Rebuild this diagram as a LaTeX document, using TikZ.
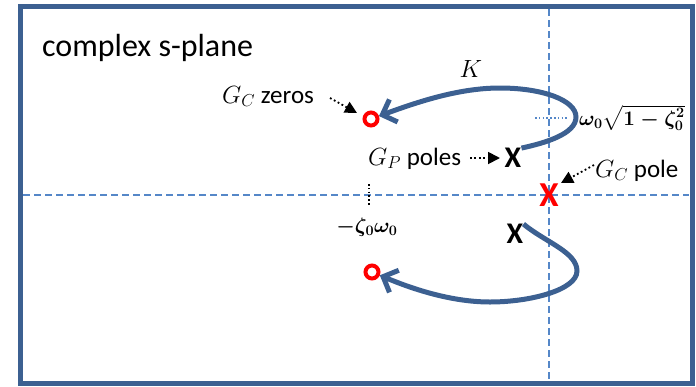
\documentclass[tikz,border=0pt]{standalone}
\usepackage{amsmath}
\usepackage[no-math]{fontspec}
\setmainfont{Carlito}
\usetikzlibrary{arrows.meta}
\definecolor{frameblue}{RGB}{60,96,145}
\definecolor{axisblue}{RGB}{85,135,200}
\newcommand{\wdlabel}{{\boldmath\(\omega_0\sqrt{1-\zeta_0^2}\)}}
\newcommand{\zwlabel}{{\boldmath\(-\zeta_0\omega_0\)}}
\begin{document}
\begin{tikzpicture}[x=1pt,y=-1pt,
  lbl/.style={font=\fontsize{25}{30}\selectfont, inner sep=0pt},
  pointer/.style={line width=1.8pt, dash pattern=on 1.8pt off 2.6pt,
                  -{Triangle[length=12pt,width=12pt]}},
  locus/.style={frameblue, line width=5pt,
                -{Straight Barb[length=12pt,width=24pt]}},
  axisline/.style={axisblue, line width=1.5pt, dash pattern=on 7pt off 4pt},
  zero/.style={circle, draw=red, line width=4pt, minimum size=13pt, inner sep=0pt},
  polex/.style={inner sep=0pt, font=\fontsize{30}{30}\selectfont\bfseries},
]
\useasboundingbox (0,0) rectangle (696,386);
% frame
\draw[frameblue, line width=5pt] (20,6) rectangle (692,383);
% axes
\coordinate (hl) at (23,195);
\coordinate (hr) at (689,195);
\coordinate (vt) at (549,9);
\coordinate (vb) at (549,380);
\draw[axisline] (hl) -- (hr);
\draw[axisline] (vt) -- (vb);
% ticks
\coordinate (t1a) at (369,184);
\coordinate (t1b) at (369,205);
\draw[black, line width=1.6pt, dash pattern=on 1.6pt off 2.2pt] (t1a) -- (t1b);
\coordinate (t2a) at (535,118);
\coordinate (t2b) at (567,118);
\draw[axisblue, line width=1.6pt, dash pattern=on 1.6pt off 2.2pt] (t2a) -- (t2b);
% poles and zeros
\node[zero] (zu) at (371,119) {};
\node[zero] (zl) at (372,272) {};
\node[polex] (xu) at (513,158) {X};
\node[polex] (xl) at (515,234) {X};
\node[polex, red, font=\fontsize{35}{35}\selectfont\bfseries] (xr) at (549,195) {X};
% root locus branches
\draw[locus] (xu.north east) .. controls (545,143) and (576,134) .. (576,117)
  .. controls (576,100) and (542,88) .. (500,88)
  .. controls (460,88) and (420,101) .. (zu);
\draw[locus] (xl.north east) .. controls (545,242) and (577,252) .. (577,271)
  .. controls (577,290) and (530,302) .. (490,302)
  .. controls (450,302) and (410,288) .. (zl);
% labels
\node[lbl, anchor=base west, font=\fontsize{32}{38}\selectfont] (cs) at (42,56) {complex s-plane};
\node[lbl, anchor=base west] (gcz) at (222,103) {\(G_C\) zeros};
\node[lbl, anchor=base west] (gpp) at (368,165) {\(G_P\) poles};
\node[lbl, anchor=base west] (gcp) at (595,177) {\(G_C\) pole};
\node[lbl, font=\fontsize{30}{30}\selectfont] (k) at (471,69) {\(K\)};
\node[lbl, anchor=west, font=\fontsize{21.5}{26}\selectfont] (wl) at (579,118) {\wdlabel};
\node[lbl, font=\fontsize{21}{26}\selectfont] (zw) at (367,227) {\zwlabel};
% pointers
\coordinate (p1a) at (330,98);
\coordinate (p1b) at (357,113);
\draw[pointer] (p1a) -- (p1b);
\coordinate (p2a) at (470,158);
\coordinate (p2b) at (500,158);
\draw[pointer] (p2a) -- (p2b);
\coordinate (p3a) at (594,165);
\coordinate (p3b) at (561,183);
\draw[pointer] (p3a) -- (p3b);
\end{tikzpicture}
\end{document}
